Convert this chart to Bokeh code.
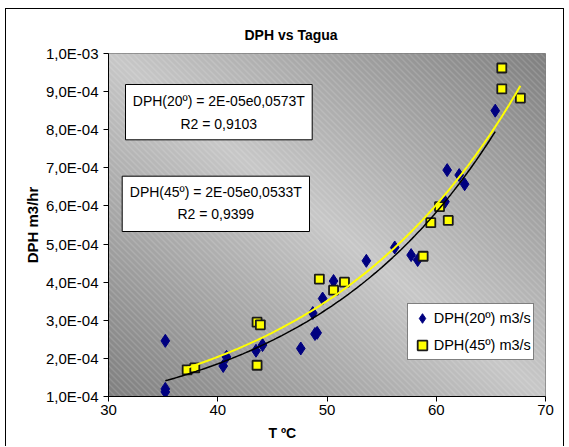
import numpy as np
from bokeh.plotting import figure
from bokeh.models import Range1d, FixedTicker, Label, BoxAnnotation, Legend, LegendItem, Title
from bokeh.embed import file_html
from bokeh.resources import INLINE

# ---------------- data ----------------
title_text = "DPH vs Tagua"
x_label = "T ºC"
y_label = "DPH m3/hr"

t_20 = [35.2, 35.2, 35.2, 40.5, 40.8, 43.5, 44.1, 47.6, 48.7, 48.9, 49.1,
        49.6, 50.6, 53.6, 56.2, 57.7, 58.3, 60.8, 61.0, 62.1, 62.6, 65.4]
dph_20 = [2.46e-4, 1.20e-4, 1.12e-4, 1.80e-4, 2.04e-4, 2.20e-4, 2.35e-4, 2.26e-4,
          3.19e-4, 2.64e-4, 2.67e-4, 3.57e-4, 4.03e-4, 4.56e-4, 4.91e-4, 4.71e-4,
          4.58e-4, 6.11e-4, 6.94e-4, 6.81e-4, 6.57e-4, 8.50e-4]

t_45 = [37.2, 37.9, 43.6, 43.9, 43.6, 49.3, 50.6, 51.6, 58.8, 59.5, 60.3,
        61.1, 66.0, 66.0, 67.7]
dph_45 = [1.70e-4, 1.75e-4, 2.95e-4, 2.88e-4, 1.82e-4, 4.08e-4, 3.79e-4, 4.00e-4,
          4.68e-4, 5.56e-4, 5.98e-4, 5.62e-4, 9.07e-4, 9.62e-4, 8.83e-4]

x_ticks = [30, 40, 50, 60, 70]
y_ticks = [1e-4, 2e-4, 3e-4, 4e-4, 5e-4, 6e-4, 7e-4, 8e-4, 9e-4, 1e-3]
y_tick_labels = ["1,0E-04", "2,0E-04", "3,0E-04", "4,0E-04", "5,0E-04",
                 "6,0E-04", "7,0E-04", "8,0E-04", "9,0E-04", "1,0E-03"]

eq_20 = ["DPH(20º) = 2E-05e0,0573T", "R2 = 0,9103"]
eq_45 = ["DPH(45º) = 2E-05e0,0533T", "R2 = 0,9399"]
legend_labels = ["DPH(20º) m3/s", "DPH(45º) m3/s"]

# ---------------- layout ----------------
FONT = "Liberation Sans"
X0, X1 = 30, 70
Y0, Y1 = 1e-4, 1e-3
ML, MT = 5, 8              # page offset of the chart frame line
CX0, CY0 = ML + 1, MT + 1  # canvas origin on page (after 1px css border)
FL, FR, FT, FB = 108, 545, 53, 396   # plot frame on page
W, H = 559, 438


def dx(px):
    return X0 + (px - FL) / (FR - FL) * (X1 - X0)


def dy(py):
    return Y1 - (py - FT) / (FB - FT) * (Y1 - Y0)


p = figure(width=W, height=H, output_backend="svg", toolbar_location=None,
           x_range=Range1d(X0, X1), y_range=Range1d(Y0, Y1),
           min_border_left=FL - CX0, min_border_right=(CX0 + W) - FR,
           min_border_top=FT - CY0, min_border_bottom=(CY0 + H) - FB)
p.margin = (MT, 0, 0, ML)
p.styles = {"border-left": "1px solid #000", "border-top": "1px solid #000",
            "border-right": "1px solid #000"}
p.border_fill_color = "white"
p.background_fill_color = "#b0b0b0"
p.outline_line_color = "#808080"
p.grid.visible = False

# background: diagonal gradient with fine white hatching
fw, fh = FR - FL, FB - FT
cols = np.arange(fw)[None, :]
rows_top = np.arange(fh)[:, None]
xn = cols / (fw - 1)
yn_up = 1 - rows_top / (fh - 1)
tt = np.abs(xn + yn_up - 1.0)
light, dark = 200.0, 128.0
g = light - (light - dark) * tt
hatch = ((cols - rows_top) % 6) == 0
g = np.where(hatch, g + (255 - g) * 0.28, g)
g = g[::-1]
rgba = np.empty((fh, fw, 4), dtype=np.uint8)
rgba[..., 0] = g
rgba[..., 1] = g
rgba[..., 2] = g
rgba[..., 3] = 255
img = rgba.view(np.uint32).reshape(fh, fw)
p.image_rgba(image=[img], x=X0, y=Y0, dw=X1 - X0, dh=Y1 - Y0)

# scatter series
r20 = p.scatter(t_20, dph_20, marker="diamond", size=13, fill_color="#000080",
                line_color="#000080", line_width=1)
r45 = p.scatter(t_45, dph_45, marker="square", size=9, fill_color="#ffff00",
                line_color="#1a1a1a", line_width=1.8)

# exponential trendlines fitted from the data
for xs, ys, col, lw in ((t_20, dph_20, "black", 1.5), (t_45, dph_45, "#ffff00", 2)):
    b, lna = np.polyfit(np.array(xs), np.log(np.array(ys)), 1)
    xx = np.linspace(min(xs), max(xs), 120)
    p.line(xx, np.exp(lna) * np.exp(b * xx), line_color=col, line_width=lw)

# axes
for ax in (p.xaxis, p.yaxis):
    ax.axis_line_color = "black"
    ax.major_tick_line_color = "black"
    ax.major_tick_out = 5
    ax.major_tick_in = 0
    ax.minor_tick_line_color = None
    ax.major_label_text_font = FONT
    ax.major_label_text_font_size = "15px"
    ax.major_label_text_color = "black"
p.xaxis.ticker = FixedTicker(ticks=x_ticks)
p.xaxis.major_label_standoff = 3
p.yaxis.ticker = FixedTicker(ticks=y_ticks)
p.yaxis.major_label_overrides = dict(zip(y_ticks, y_tick_labels))
p.yaxis.major_label_standoff = 5
p.yaxis.axis_label = y_label
p.yaxis.axis_label_text_font = FONT
p.yaxis.axis_label_text_font_style = "bold"
p.yaxis.axis_label_text_font_size = "15px"
p.yaxis.axis_label_text_color = "black"
p.yaxis.axis_label_standoff = 2

# title and x label as titles (left aligned with offsets)
p.add_layout(Title(text=title_text, align="left", offset=244 - FL, standoff=22,
                   text_font=FONT, text_font_style="bold", text_font_size="14px",
                   text_color="black"), "above")
p.add_layout(Title(text=x_label, align="left", offset=268 - FL, standoff=11,
                   text_font=FONT, text_font_style="bold", text_font_size="14px",
                   text_color="black"), "below")

# equation boxes
for (l, r, t, bt, cx, y1, y2), lines in (((125, 311.7, 84, 139.3, 218.3, 100, 123.3), eq_20),
                                          ((121.7, 309, 175.7, 231, 215.3, 191.7, 213.3), eq_45)):
    p.add_layout(BoxAnnotation(left=dx(l), right=dx(r), top=dy(t), bottom=dy(bt),
                               fill_color="white", fill_alpha=1, line_color="black",
                               line_width=1, line_alpha=1))
    for yy, txt in ((y1, lines[0]), (y2, lines[1])):
        p.add_layout(Label(x=dx(cx), y=dy(yy), text=txt, text_align="center",
                           text_baseline="middle", text_font=FONT,
                           text_font_size="14px", text_color="black"))

legend = Legend(items=[LegendItem(label=legend_labels[0], renderers=[r20]),
                       LegendItem(label=legend_labels[1], renderers=[r45])],
                location=(406.7 - FL, FB - 360))
legend.border_line_color = "black"
legend.border_line_width = 1
legend.background_fill_color = "white"
legend.background_fill_alpha = 1
legend.padding = 2
legend.margin = 0
legend.spacing = 3
legend.glyph_width = 24
legend.glyph_height = 24
legend.label_height = 24
legend.label_standoff = -8
legend.label_text_font = FONT
legend.label_text_font_size = "14.5px"
legend.label_text_color = "black"
p.add_layout(legend)

open("out.html", "w").write(file_html(p, INLINE))
